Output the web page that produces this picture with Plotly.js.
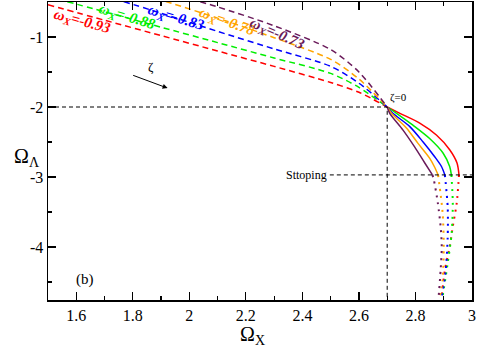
<!DOCTYPE html>
<html>
<head>
<meta charset="utf-8">
<script src="https://cdn.plot.ly/plotly-3.0.1.min.js"></script>
<style>
  html, body { margin: 0; padding: 0; background: #fff; }
  #chart { width: 479px; height: 347px; }
</style>
</head>
<body>
<div id="chart"></div>
<script>
// omega_X values and colors
const omegaLabels = ['-0.93', '-0.88', '-0.83', '-0.78', '-0.73'];
const colors = ['#ff0000', '#00ee00', '#0000ff', '#ffa500', '#6a1a5a'];

// dashed branches (before zeta=0)
const dashX = [
  [1.5, 1.7, 1.9, 2.1, 2.3, 2.5, 2.6, 2.7],
  [1.5, 1.7, 1.9, 2.1, 2.3, 2.5, 2.6, 2.7],
  [1.7, 1.9, 2.1, 2.3, 2.5, 2.6, 2.7],
  [1.85, 1.9, 2.1, 2.3, 2.5, 2.6, 2.7],
  [1.97, 2.1, 2.3, 2.5, 2.6, 2.7]
];
const dashY = [
  [-0.54, -0.76, -0.98, -1.20, -1.42, -1.65, -1.79, -2.0],
  [-0.42, -0.64, -0.86, -1.08, -1.30, -1.52, -1.72, -2.0],
  [-0.41, -0.66, -0.92, -1.17, -1.42, -1.66, -2.0],
  [-0.40, -0.47, -0.73, -1.01, -1.32, -1.60, -2.0],
  [-0.42, -0.57, -0.84, -1.18, -1.50, -2.0]
];

// solid branches (zeta=0 to stopping)
const solidX = [
  [2.7, 2.745, 2.815, 2.874, 2.921, 2.947, 2.954],
  [2.7, 2.733, 2.791, 2.85, 2.898, 2.921, 2.927],
  [2.7, 2.72, 2.78, 2.827, 2.868, 2.892, 2.904],
  [2.7, 2.715, 2.768, 2.809, 2.85, 2.868, 2.88],
  [2.7, 2.709, 2.756, 2.797, 2.833, 2.86]
];
const solidY = [
  [-2.0, -2.09, -2.23, -2.40, -2.61, -2.80, -2.97],
  [-2.0, -2.09, -2.26, -2.45, -2.66, -2.85, -2.97],
  [-2.0, -2.09, -2.28, -2.50, -2.71, -2.85, -2.97],
  [-2.0, -2.09, -2.30, -2.52, -2.73, -2.86, -2.97],
  [-2.0, -2.09, -2.33, -2.57, -2.80, -2.97]
];

// dotted branches (after stopping)
const dotX = [
  [2.954, 2.946, 2.932, 2.921, 2.904, 2.893],
  [2.927, 2.932, 2.928, 2.914, 2.896],
  [2.904, 2.914, 2.914, 2.907, 2.893],
  [2.88, 2.896, 2.900, 2.896, 2.886],
  [2.86, 2.865, 2.879, 2.889, 2.893, 2.889, 2.882]
];
const dotY = [
  [-2.97, -3.37, -3.71, -4.0, -4.33, -4.71],
  [-2.97, -3.37, -3.8, -4.23, -4.71],
  [-2.97, -3.43, -3.86, -4.33, -4.71],
  [-2.97, -3.51, -4.0, -4.47, -4.71],
  [-2.97, -3.04, -3.37, -3.71, -4.0, -4.33, -4.71]
];

// reference lines
const zetaZeroX = [1.5, 2.7, 2.7];
const zetaZeroY = [-2.0, -2.0, -4.76];
const stopX = [2.497, 3.0];
const stopY = [-2.97, -2.97];

// label positions
const labelX = [1.622, 1.778, 1.952, 2.132, 2.309];
const labelY = [-0.786, -0.715, -0.725, -0.786, -0.957];
const labelAngle = [15, 17, 17, 20, 24];

const traces = [];
for (let i = 0; i < omegaLabels.length; i++) {
  traces.push({ type: 'scatter', mode: 'lines', x: dashX[i], y: dashY[i], line: { color: colors[i], width: 1.5, dash: '6px,4px', shape: 'spline', smoothing: 0.8 }, hoverinfo: 'skip' });
  traces.push({ type: 'scatter', mode: 'lines', x: solidX[i], y: solidY[i], line: { color: colors[i], width: 1.5, shape: 'spline', smoothing: 0.8 }, hoverinfo: 'skip' });
  traces.push({ type: 'scatter', mode: 'lines', x: dotX[i], y: dotY[i], line: { color: colors[i], width: 2, dash: '2px,5px', shape: 'spline', smoothing: 0.8 }, hoverinfo: 'skip' });
}
traces.push({ type: 'scatter', mode: 'lines', x: zetaZeroX, y: zetaZeroY, line: { color: '#000', width: 1, dash: '4px,3px' }, hoverinfo: 'skip' });
traces.push({ type: 'scatter', mode: 'lines', x: stopX, y: stopY, line: { color: '#000', width: 1, dash: '4px,3px' }, hoverinfo: 'skip' });

const serif = '"Liberation Serif", "Times New Roman", serif';
const annotations = omegaLabels.map((v, i) => ({
  x: labelX[i], y: labelY[i], xref: 'x', yref: 'y', showarrow: false,
  text: '<b><i>ω<sub>X</sub>=' + v + '</i></b>', textangle: labelAngle[i],
  font: { family: serif, size: 15, color: colors[i] }
}));
annotations.push(
  { x: 1.923, y: -1.73, ax: 1.796, ay: -1.54, axref: 'x', ayref: 'y', xref: 'x', yref: 'y', showarrow: true, arrowhead: 2, arrowsize: 1, arrowwidth: 1, arrowcolor: '#000', text: '' },
  { x: 1.866, y: -1.42, xref: 'x', yref: 'y', showarrow: false, text: 'ζ', font: { family: serif, size: 13, color: '#000' } },
  { x: 2.74, y: -1.86, xref: 'x', yref: 'y', showarrow: false, text: 'ζ=0', font: { family: serif, size: 11, color: '#000' } },
  { x: 2.495, y: -2.97, xref: 'x', yref: 'y', xanchor: 'right', showarrow: false, text: 'Sttoping', font: { family: serif, size: 12, color: '#000' } },
  { x: 1.63, y: -4.46, xref: 'x', yref: 'y', showarrow: false, text: '(b)', font: { family: serif, size: 15, color: '#000' } },
  // axis titles placed by hand (y title is horizontal in the original)
  { x: (12 - 48) / 424, y: (300 - 157) / 298, xref: 'paper', yref: 'paper', yanchor: 'middle', showarrow: false, text: 'Ω<sub>Λ</sub>', font: { family: serif, size: 20, color: '#000' } },
  { x: (252 - 48) / 424, y: (300 - 321) / 298, xref: 'paper', yref: 'paper', yanchor: 'top', showarrow: false, text: 'Ω<sub>X</sub>', font: { family: serif, size: 20, color: '#000' } }
);

const axisCommon = {
  showgrid: false, zeroline: false, showline: true, linecolor: '#000', linewidth: 1.5,
  mirror: 'ticks', ticks: 'inside', ticklen: 8, tickwidth: 1.2, tickcolor: '#000',
  tickfont: { family: serif, size: 16, color: '#000' }
};

const layout = {
  width: 479, height: 347,
  margin: { l: 48, r: 7, t: 2, b: 47 },
  paper_bgcolor: '#fff', plot_bgcolor: '#fff',
  showlegend: false,
  font: { family: serif },
  xaxis: { ...axisCommon, range: [1.5, 3], tickvals: [1.6, 1.8, 2, 2.2, 2.4, 2.6, 2.8, 3], ticktext: ['1.6', '1.8', '2', '2.2', '2.4', '2.6', '2.8', '3'],
    minor: { dtick: 0.1, ticks: 'inside', ticklen: 4, tickcolor: '#000', showgrid: false } },
  yaxis: { ...axisCommon, range: [-4.757, -0.5], tickvals: [-1, -2, -3, -4], ticktext: ['-1', '-2', '-3', '-4'],
    minor: { tickvals: [-1.5, -2.5, -3.5, -4.5], ticks: 'inside', ticklen: 4, tickcolor: '#000', showgrid: false } },
  annotations: annotations
};

Plotly.newPlot('chart', traces, layout, { displayModeBar: false, staticPlot: true });
</script>
</body>
</html>
